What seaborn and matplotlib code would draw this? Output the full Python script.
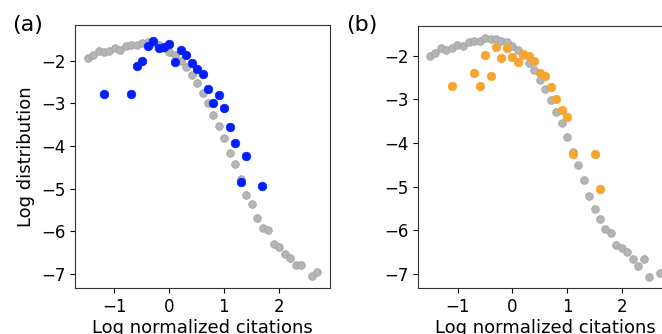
import matplotlib
matplotlib.use("Agg")
import matplotlib.pyplot as plt
import seaborn as sns
import pandas as pd

# Panel (a): reference curve (grey) and blue series
a_ref_x = [-1.49, -1.39, -1.29, -1.19, -1.09, -0.99, -0.89, -0.79, -0.69, -0.59,
           -0.49, -0.39, -0.29, -0.19, -0.09, 0.00, 0.11, 0.21, 0.31, 0.41,
           0.51, 0.61, 0.71, 0.81, 0.91, 1.00, 1.11, 1.21, 1.31, 1.41,
           1.51, 1.61, 1.71, 1.81, 1.91, 2.01, 2.11, 2.21, 2.31, 2.41,
           2.62, 2.71]
a_ref_y = [-1.93, -1.875, -1.77, -1.80, -1.77, -1.71, -1.74, -1.66, -1.63, -1.62,
           -1.59, -1.57, -1.58, -1.63, -1.70, -1.79, -1.875, -2.00, -2.15, -2.33,
           -2.52, -2.75, -2.98, -3.27, -3.54, -3.81, -4.16, -4.42, -4.78, -5.14,
           -5.36, -5.68, -5.92, -5.98, -6.30, -6.37, -6.54, -6.62, -6.80, -6.78,
           -7.05, -6.96]
a_x = [-1.19, -0.69, -0.59, -0.49, -0.39, -0.29, -0.19, -0.09, 0.00, 0.11,
       0.21, 0.31, 0.41, 0.51, 0.61, 0.71, 0.81, 0.91, 1.00, 1.11,
       1.21, 1.41, 1.31, 1.70]
a_y = [-2.78, -2.78, -2.125, -2.01, -1.66, -1.54, -1.69, -1.67, -1.61, -2.02,
       -1.74, -1.87, -2.04, -2.19, -2.32, -2.66, -2.98, -2.80, -3.11, -3.55,
       -3.92, -4.23, -4.84, -4.94]

# Panel (b): reference curve (grey) and orange series
b_ref_x = [-1.51, -1.41, -1.30, -1.21, -1.10, -1.01, -0.90, -0.80, -0.71, -0.60,
           -0.50, -0.40, -0.30, -0.20, -0.10, 0.00, 0.10, 0.20, 0.30, 0.40,
           0.50, 0.60, 0.70, 0.80, 0.90, 1.00, 1.10, 1.20, 1.30, 1.40,
           1.50, 1.60, 1.70, 1.80, 1.90, 2.00, 2.10, 2.20, 2.30, 2.40,
           2.50, 2.70]
b_ref_y = [-2.00, -1.93, -1.83, -1.855, -1.82, -1.75, -1.78, -1.69, -1.66, -1.66,
           -1.60, -1.61, -1.62, -1.66, -1.69, -1.77, -1.87, -1.99, -2.16, -2.33,
           -2.56, -2.77, -3.02, -3.29, -3.55, -3.86, -4.20, -4.50, -4.85, -5.21,
           -5.52, -5.73, -5.96, -6.05, -6.33, -6.40, -6.50, -6.66, -6.82, -6.66,
           -7.06, -6.97]
b_x = [-1.11, -0.71, -0.60, -0.50, -0.40, -0.30, -0.20, -0.10, 0.00, 0.10,
       0.20, 0.30, 0.40, 0.50, 0.60, 0.70, 0.80, 0.90, 1.00, 1.10,
       1.50, 1.60]
b_y = [-2.69, -2.39, -2.69, -1.985, -2.47, -1.79, -2.05, -1.81, -2.03, -2.13,
       -1.95, -2.00, -2.11, -2.40, -2.47, -2.71, -2.98, -3.24, -3.40, -4.24,
       -4.24, -5.05]

plt.rcParams["font.family"] = ["DejaVu Sans"]
plt.rcParams["font.size"] = 12

fig = plt.figure(figsize=(6.62, 3.34), dpi=100)
ax_a = fig.add_axes([0.1133, 0.1377, 0.3852, 0.7874])
ax_b = fig.add_axes([0.6319, 0.1377, 0.3852, 0.7853])

panels = [
    (ax_a, a_ref_x, a_ref_y, a_x, a_y, "#001eff", "(a)", (-7.33, -1.16)),
    (ax_b, b_ref_x, b_ref_y, b_x, b_y, "#f7a532", "(b)", (-7.32, -1.31)),
]

for ax, rx, ry, sx, sy, col, tag, ylim in panels:
    ref = pd.DataFrame({"x": rx, "y": ry})
    ser = pd.DataFrame({"x": sx, "y": sy})
    sns.scatterplot(data=ref, x="x", y="y", ax=ax, color="#b5b5b5",
                    edgecolor="#a3a3a3", linewidth=0.6, s=30, zorder=2)
    sns.scatterplot(data=ser, x="x", y="y", ax=ax, color=col,
                    edgecolor=col, linewidth=0.5, s=38, zorder=3)
    ax.set_xlim(-1.72, 2.94)
    ax.set_ylim(*ylim)
    ax.set_xticks([-1, 0, 1, 2])
    ax.set_yticks([-7, -6, -5, -4, -3, -2])
    ax.set_xlabel("Log normalized citations", fontsize=13, labelpad=2)
    ax.set_ylabel("")
    for sp in ax.spines.values():
        sp.set_color("#333333")

ax_a.set_ylabel("Log distribution", fontsize=13)
fig.text(0.018, 0.955, "(a)", fontsize=16, va="top", ha="left")
fig.text(0.523, 0.955, "(b)", fontsize=16, va="top", ha="left")

fig.savefig("out.png", dpi=100)
